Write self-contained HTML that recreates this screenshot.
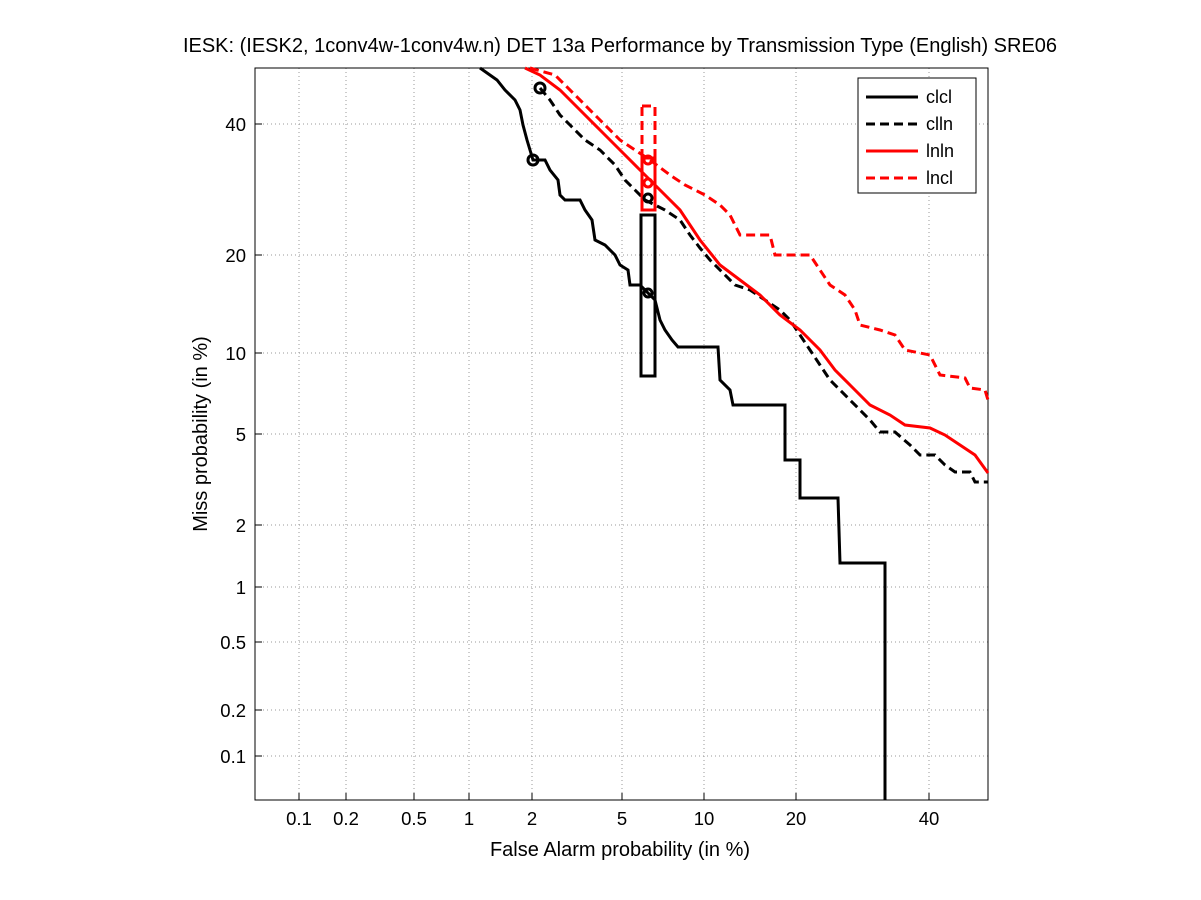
<!DOCTYPE html>
<html><head><style>body{margin:0;background:#fff}svg{display:block}text{font-family:"Liberation Sans",sans-serif}</style></head><body>
<svg width="1201" height="900" viewBox="0 0 1201 900">
<rect width="1201" height="900" fill="#fff"/>
<g stroke="#999" stroke-width="1" stroke-dasharray="1,3">
<line x1="299" y1="68" x2="299" y2="800"/><line x1="346" y1="68" x2="346" y2="800"/><line x1="414" y1="68" x2="414" y2="800"/><line x1="469" y1="68" x2="469" y2="800"/><line x1="532" y1="68" x2="532" y2="800"/><line x1="622" y1="68" x2="622" y2="800"/><line x1="704" y1="68" x2="704" y2="800"/><line x1="796" y1="68" x2="796" y2="800"/><line x1="929" y1="68" x2="929" y2="800"/>
<line x1="255" y1="124" x2="988" y2="124"/><line x1="255" y1="255" x2="988" y2="255"/><line x1="255" y1="353" x2="988" y2="353"/><line x1="255" y1="434" x2="988" y2="434"/><line x1="255" y1="525" x2="988" y2="525"/><line x1="255" y1="587" x2="988" y2="587"/><line x1="255" y1="642" x2="988" y2="642"/><line x1="255" y1="710" x2="988" y2="710"/><line x1="255" y1="756" x2="988" y2="756"/>
</g>
<rect x="255" y="68" width="733" height="732" fill="none" stroke="#000"/>
<g stroke="#000"><line x1="299" y1="800" x2="299" y2="793"/><line x1="346" y1="800" x2="346" y2="793"/><line x1="414" y1="800" x2="414" y2="793"/><line x1="469" y1="800" x2="469" y2="793"/><line x1="532" y1="800" x2="532" y2="793"/><line x1="622" y1="800" x2="622" y2="793"/><line x1="704" y1="800" x2="704" y2="793"/><line x1="796" y1="800" x2="796" y2="793"/><line x1="929" y1="800" x2="929" y2="793"/>
<line x1="255" y1="124" x2="262" y2="124"/><line x1="255" y1="255" x2="262" y2="255"/><line x1="255" y1="353" x2="262" y2="353"/><line x1="255" y1="434" x2="262" y2="434"/><line x1="255" y1="525" x2="262" y2="525"/><line x1="255" y1="587" x2="262" y2="587"/><line x1="255" y1="642" x2="262" y2="642"/><line x1="255" y1="710" x2="262" y2="710"/><line x1="255" y1="756" x2="262" y2="756"/></g>
<g font-size="18.5" text-anchor="middle"><text x="299" y="825">0.1</text><text x="346" y="825">0.2</text><text x="414" y="825">0.5</text><text x="469" y="825">1</text><text x="532" y="825">2</text><text x="622" y="825">5</text><text x="704" y="825">10</text><text x="796" y="825">20</text><text x="929" y="825">40</text></g>
<g font-size="18.5" text-anchor="end"><text x="246" y="131">40</text><text x="246" y="262">20</text><text x="246" y="360">10</text><text x="246" y="441">5</text><text x="246" y="532">2</text><text x="246" y="594">1</text><text x="246" y="649">0.5</text><text x="246" y="717">0.2</text><text x="246" y="763">0.1</text></g>
<text x="620" y="856" font-size="20" text-anchor="middle">False Alarm probability (in %)</text>
<text transform="translate(207,434) rotate(-90)" font-size="20" text-anchor="middle">Miss probability (in %)</text>
<text x="620" y="52" font-size="20" text-anchor="middle">IESK: (IESK2, 1conv4w-1conv4w.n) DET 13a Performance by Transmission Type (English) SRE06</text>
<g fill="none" stroke-width="3">
<polyline stroke="#000" points="480,68 497,80 505,90 515,100 520,110 523,125 527,140 530,150 533,160 545,160 550,170 558,180 560,195 565,200 580,200 585,210 592,220 595,240 605,245 615,255 620,265 628,270 630,285 640,285 655,300 660,320 665,330 672,340 678,347 718,347 720,380 730,390 733,405 785,405 785,460 800,460 800,498 838,498 840,563 885,563 885,800"/>
<rect x="641" y="215" width="14" height="161" stroke="#000"/>
<polyline stroke="#000" stroke-dasharray="9,5" points="540,88 550,100 560,115 570,125 585,140 600,150 615,165 625,180 635,190 645,200 655,205 665,210 680,220 690,235 700,248 710,260 720,270 735,285 750,290 765,300 780,310 790,320 800,335 810,350 820,365 830,380 840,390 850,400 860,410 870,420 880,432 895,432 910,445 920,455 935,455 945,465 955,472 970,472 975,482 988,482"/>
<polyline stroke="#f00" points="525,68 540,75 560,90 580,110 600,130 620,150 640,170 660,190 680,210 700,240 720,265 740,280 760,295 780,315 800,330 820,350 835,370 850,385 870,405 890,415 905,425 930,428 945,435 960,445 975,455 988,473"/>
<polyline stroke="#f00" stroke-dasharray="9,5" points="530,68 555,75 575,95 600,120 620,140 635,150 650,160 670,175 685,185 705,195 720,205 730,215 740,235 770,235 775,255 810,255 820,270 830,285 845,295 855,310 860,325 880,330 895,335 905,350 930,355 940,375 965,378 970,388 985,390 988,400"/>
<rect x="642" y="106" width="13" height="104" stroke="#f00" stroke-dasharray="9,5"/>
<rect x="642" y="158" width="13" height="52" stroke="#f00"/>
<circle cx="533" cy="160" r="5" stroke="#000"/><circle cx="540" cy="88" r="5" stroke="#000"/><circle cx="648" cy="293" r="4" stroke="#000"/><circle cx="648" cy="198" r="4" stroke="#000"/><circle cx="648" cy="160" r="4" stroke="#f00"/><circle cx="648" cy="183" r="4" stroke="#f00"/>
</g>
<rect x="858" y="78" width="118" height="115" fill="#fff" stroke="#000"/>
<g stroke-width="3"><line x1="866" y1="97" x2="918" y2="97" stroke="#000"/><line x1="866" y1="124" x2="918" y2="124" stroke="#000" stroke-dasharray="9,5"/><line x1="866" y1="151" x2="918" y2="151" stroke="#f00"/><line x1="866" y1="178" x2="918" y2="178" stroke="#f00" stroke-dasharray="9,5"/></g>
<g font-size="18"><text x="926" y="103">clcl</text><text x="926" y="130">clln</text><text x="926" y="157">lnln</text><text x="926" y="184">lncl</text></g>
</svg></body></html>
